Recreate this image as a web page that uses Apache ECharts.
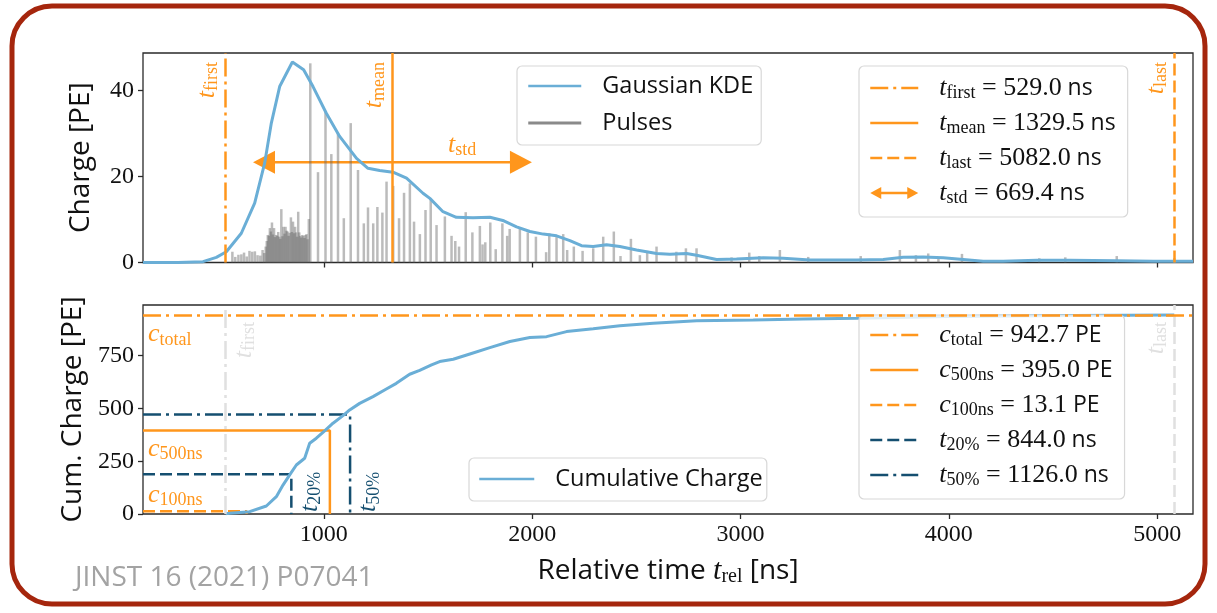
<!DOCTYPE html>
<html>
<head>
<meta charset="utf-8">
<style>
  html, body { margin: 0; padding: 0; background: #ffffff; }
  #chart { width: 1217px; height: 613px; }
</style>
<script src="https://cdn.jsdelivr.net/npm/echarts@6/dist/echarts.min.js"></script>
</head>
<body>
<div id="chart"></div>
<script>
// ---- axes ----
const X_MIN = 132, X_MAX = 5172;
const X_TICKS = [1000, 2000, 3000, 4000, 5000];
const Q_MAX = 48.7;
const Q_TICKS = [0, 20, 40];
const C_MAX = 990;
const C_TICKS = [0, 250, 500, 750];

// ---- summary quantities of the waveform ----
const T_FIRST = 529.0, T_MEAN = 1329.5, T_LAST = 5082.0, T_STD = 669.4;
const C_TOTAL = 942.7, C_500 = 395.0, C_100 = 13.1, T_20 = 844.0, T_50 = 1126.0;

// ---- individual pulses: time [ns], charge [PE] ----
const pulseTimes = [
  561, 575, 590, 604, 617, 630, 643, 656, 669, 682, 695, 706, 714, 721,
  726, 731, 736, 741, 746, 751, 756, 761, 766, 771, 776, 781, 786, 791, 796, 801,
  806, 811, 816, 821, 826, 831, 836, 842, 847, 852, 857, 862, 867, 872, 877, 882,
  887, 892, 897, 902, 907, 912, 917, 922, 928,
  935, 972, 1008, 1036, 1068, 1096, 1129, 1164, 1192, 1212, 1237, 1257, 1281, 1301,
  1333, 1361, 1385, 1413, 1433, 1461, 1488, 1513, 1541, 1581, 1613, 1631, 1649, 1681,
  1713, 1749, 1762, 1775, 1799, 1825, 1857, 1880, 1892, 1941, 1979, 2018, 2067, 2082,
  2117, 2149, 2168, 2200, 2242, 2293, 2341, 2392, 2424, 2474, 2517, 2552, 2597, 2692,
  2738, 2789, 2957, 3042, 3090, 3189, 3325, 3577, 3765, 3842, 3901, 3950, 4063, 4434,
  4559, 4806, 5082
];
const pulseCharges = [
  2.5, 1.3, 1.8, 1.9, 2.3, 1.4, 2.7, 2.5, 2.6, 1.7, 1.6, 2.9, 2.2, 3.7,
  5.0, 6.4, 6.2, 8.0, 7.2, 9.3, 6.5, 8.0, 5.9, 6.4, 6.2, 7.1, 6.0, 5.5, 12.4, 6.1,
  8.3, 6.7, 8.3, 7.4, 7.2, 6.2, 6.9, 10.5, 7.1, 9.5, 6.8, 8.3, 7.0, 6.0, 11.8, 7.0,
  6.2, 5.8, 6.4, 6.2, 5.7, 6.4, 6.6, 5.4, 10.1,
  46.3, 21.0, 35.1, 25.2, 30.0, 10.3, 32.4, 21.5, 9.1, 12.8, 9.1, 12.9, 11.6, 18.8,
  17.8, 10.3, 16.2, 18.4, 9.5, 6.6, 12.2, 14.5, 8.7, 10.7, 6.2, 5.0, 3.7, 11.7,
  7.0, 8.5, 4.2, 4.7, 9.3, 3.1, 9.1, 6.2, 7.8, 7.9, 7.0, 6.0, 2.4, 6.8,
  5.9, 6.6, 2.9, 3.7, 2.7, 3.3, 6.0, 7.2, 1.5, 5.5, 1.7, 2.7, 3.7, 2.5,
  3.3, 3.3, 1.2, 2.3, 1.5, 2.9, 1.3, 1.5, 2.9, 1.7, 2.1, 1.0, 2.0, 1.0,
  1.2, 1.5, 1.0
];

// ---- Gaussian KDE of the charge distribution ----
const kdeTimes = [
  132, 300, 420, 484, 532, 604, 668, 716, 748, 788, 849, 903, 948, 1012, 1076, 1157,
  1212, 1268, 1332, 1397, 1476, 1509, 1572, 1636, 1716, 1797, 1864, 1925, 1989, 2053,
  2117, 2181, 2237, 2293, 2357, 2421, 2501, 2597, 2661, 2741, 2789, 2885, 2981, 3109,
  3205, 3333, 3557, 3685, 3781, 3877, 3973, 4069, 4165, 4261, 4421, 4581, 4805, 4981, 5172
];
const kdeValues = [
  0, 0, 0.2, 1.2, 2.5, 6.8, 13.8, 23.1, 32.4, 40.9, 46.6, 44.8, 40.9, 34.7, 29.3, 24.2,
  21.9, 21.4, 21.0, 19.6, 16.1, 14.9, 11.8, 10.5, 10.4, 10.5, 9.7, 8.3, 7.2, 6.6,
  6.2, 5.1, 3.9, 3.7, 4.1, 3.7, 2.9, 2.1, 1.9, 2.1, 1.7, 0.7, 0.8, 1.1,
  1.0, 0.6, 0.6, 0.7, 1.2, 1.3, 1.1, 0.7, 0.3, 0.3, 0.5, 0.5, 0.4, 0.3, 0.3
];

// ---- cumulative charge ----
const cumTimes = [
  529, 548, 644, 724, 772, 804, 836, 868, 908, 932, 964, 1004, 1044, 1092, 1124, 1172,
  1236, 1300, 1348, 1412, 1460, 1517, 1556, 1621, 1701, 1797, 1893, 1989, 2069, 2165,
  2293, 2421, 2581, 2789, 3061, 3301, 3557, 4000, 4600, 5082
];
const cumValues = [
  1.5, 3, 11, 38, 82, 137, 185, 232, 264, 335, 359, 394, 430, 466, 493, 524,
  556, 592, 619, 662, 680, 706, 722, 733, 758, 788, 817, 836, 840, 864,
  877, 892, 904, 915, 919, 924, 927, 935, 940, 942.7
];

// ---- styling ----
const ORANGE = '#ff961c', BLUE = '#6aaed6', TEAL = '#154f70', GHOST = '#e0e0e0';
const FRAME = '#2a2a2a', GRAY_BAR = 'rgba(105,105,105,0.45)';
const SERIF = '"Liberation Serif", "DejaVu Serif", serif';
const SANS = '"Open Sans", "DejaVu Sans", sans-serif';
const DASH = [12, 5], DASHDOT = [18, 5, 3, 5];
const LW = 2.5;

const zip = (a, b) => a.map((v, i) => [v, b[i]]);
const ARROW_Y = Math.max(...kdeValues) / 2;

const chart = echarts.init(document.getElementById('chart'));

function xAxisCfg(grid, labels) {
  return {
    type: 'value', gridIndex: grid, min: X_MIN, max: X_MAX,
    axisLine: { show: false },
    splitLine: { show: false },
    axisTick: { show: true, inside: false, length: 5, customValues: X_TICKS,
                lineStyle: { color: FRAME, width: 1.3 } },
    axisLabel: { show: labels, customValues: X_TICKS, margin: 9, formatter: v => String(v),
                 fontFamily: SERIF, fontSize: 24, color: '#111' }
  };
}
function yAxisCfg(grid, max, ticks, name) {
  return {
    type: 'value', gridIndex: grid, min: 0, max: max,
    axisLine: { show: false },
    splitLine: { show: false },
    axisTick: { show: true, inside: false, length: 5, customValues: ticks,
                lineStyle: { color: FRAME, width: 1.3 } },
    axisLabel: { customValues: ticks, margin: 9, formatter: v => String(v),
                 fontFamily: SERIF, fontSize: 24, color: '#111' },
    name: name, nameLocation: 'middle', nameGap: 48,
    nameTextStyle: { fontFamily: SANS, fontSize: 28, color: '#111' }
  };
}

// vertical marker spanning the whole panel
function vMarker(name, t, dash, color, grid, z) {
  return {
    name: name, type: 'line', xAxisIndex: grid, yAxisIndex: grid, data: [],
    symbol: 'none', z: z, color: color,
    lineStyle: { color: color, width: LW, type: dash, cap: 'butt' },
    markLine: {
      silent: true, symbol: 'none', animation: false, label: { show: false },
      lineStyle: { color: color, width: LW, type: dash, cap: 'butt' },
      data: [{ xAxis: t }]
    }
  };
}
// horizontal level from the left edge to a time, then down to zero
function lMarker(name, t, c, dash, color) {
  return {
    name: name, type: 'line', xAxisIndex: 1, yAxisIndex: 1, z: 1,
    symbol: 'none', color: color,
    lineStyle: { color: color, width: LW, type: dash, cap: 'butt' },
    data: [[X_MIN, c], [t, c], [t, 0]]
  };
}

const legendRich = {
  sf0: { fontFamily: SANS, fontSize: 23.5, lineHeight: 28, color: '#111', padding: [0, 0, 0, 16] },
  sf: { fontFamily: SANS, fontSize: 23, lineHeight: 28, color: '#111' },
  it0: { fontFamily: SERIF, fontStyle: 'italic', fontSize: 26, lineHeight: 28, color: '#111', padding: [0, 0, 0, 16] },
  sub: { fontFamily: SERIF, fontSize: 18, lineHeight: 18, color: '#111', padding: [10, 0, 0, 0] },
  rm: { fontFamily: SERIF, fontSize: 26, lineHeight: 28, color: '#111' }
};
const eq = (v, unit) => `{rm| = ${v.toFixed(1)}}{sf| ${unit}}`;
const LEGEND_TEXT = {
  'Gaussian KDE': '{sf0|Gaussian KDE}',
  'Pulses': '{sf0|Pulses}',
  'Cumulative Charge': '{sf0|Cumulative Charge}',
  't_first': '{it0|t}{sub|first}' + eq(T_FIRST, 'ns'),
  't_mean': '{it0|t}{sub|mean}' + eq(T_MEAN, 'ns'),
  't_last': '{it0|t}{sub|last}' + eq(T_LAST, 'ns'),
  't_std': '{it0|t}{sub|std}' + eq(T_STD, 'ns'),
  'c_total': '{it0|c}{sub|total}' + eq(C_TOTAL, 'PE'),
  'c_500ns': '{it0|c}{sub|500ns}' + eq(C_500, 'PE'),
  'c_100ns': '{it0|c}{sub|100ns}' + eq(C_100, 'PE'),
  't_20%': '{it0|t}{sub|20%}' + eq(T_20, 'ns'),
  't_50%': '{it0|t}{sub|50%}' + eq(T_50, 'ns')
};
function legendCfg(data, left, top, iw, ih, pad, gap) {
  return {
    data: data, left: left, top: top, orient: 'vertical', selectedMode: false,
    itemWidth: iw, itemHeight: ih, itemGap: gap,
    padding: pad,
    backgroundColor: 'rgba(255,255,255,0.8)', borderColor: '#d8d8d8', borderWidth: 1.2, borderRadius: 5,
    lineStyle: { width: LW },
    itemStyle: { color: 'rgba(0,0,0,0)', borderWidth: 0 },
    formatter: n => LEGEND_TEXT[n],
    textStyle: { rich: legendRich }
  };
}

const option = {
  animation: false,
  backgroundColor: '#ffffff',
  grid: [
    { left: 143, top: 53, width: 1050, height: 209.5, show: true, borderColor: FRAME, borderWidth: 1.3, backgroundColor: 'transparent' },
    { left: 143, top: 305, width: 1050, height: 209, show: true, borderColor: FRAME, borderWidth: 1.3, backgroundColor: 'transparent' }
  ],
  xAxis: [
    xAxisCfg(0, false),
    Object.assign(xAxisCfg(1, true), {
      name: '{sf|Relative time }{it|t}{sub|rel}{sf| [ns]}',
      nameLocation: 'middle', nameGap: 41,
      nameTextStyle: { rich: {
        sf: { fontFamily: SANS, fontSize: 28, color: '#111' },
        it: { fontFamily: SERIF, fontStyle: 'italic', fontSize: 30, color: '#111' },
        sub: { fontFamily: SERIF, fontSize: 20, color: '#111', padding: [12, 0, 0, 0] }
      } }
    })
  ],
  yAxis: [
    yAxisCfg(0, Q_MAX, Q_TICKS, 'Charge [PE]'),
    yAxisCfg(1, C_MAX, C_TICKS, 'Cum. Charge [PE]')
  ],
  legend: [
    legendCfg(['Gaussian KDE', { name: 'Pulses', icon: 'rect', itemStyle: { color: '#8a8a8a' } }], 517, 66, 53, 3,
              [8, 8, 10, 10], 13),
    legendCfg(['t_first', 't_mean', 't_last',
      { name: 't_std', icon: 'path://M0,6 L11,0 L11,4.8 L37,4.8 L37,0 L48,6 L37,12 L37,7.2 L11,7.2 L11,12 Z',
        itemStyle: { color: ORANGE } }], 859, 66, 48, 14, [8, 12, 10, 10], 7),
    legendCfg(['Cumulative Charge'], 469, 458, 55, 3, [9, 4, 10, 9], 7),
    legendCfg(['c_total', 'c_500ns', 'c_100ns', 't_20%', 't_50%'], 859, 315, 48, 14, [6, 12, 10, 10], 7)
  ],
  series: [
    // ---- upper panel ----
    vMarker('t_first', T_FIRST, DASHDOT, ORANGE, 0, 1),
    vMarker('t_mean', T_MEAN, 'solid', ORANGE, 0, 1),
    vMarker('t_last', T_LAST, DASH, ORANGE, 0, 1),
    {
      name: 't_std', type: 'custom', xAxisIndex: 0, yAxisIndex: 0, z: 2, clip: false,
      itemStyle: { color: ORANGE },
      encode: { x: [0, 1], y: 2 },
      data: [[T_MEAN - T_STD, T_MEAN + T_STD, ARROW_Y]],
      renderItem: function (params, api) {
        const a = api.coord([api.value(0), api.value(2)]);
        const b = api.coord([api.value(1), api.value(2)]);
        const hl = 22, hw = 11.5;
        return { type: 'group', children: [
          { type: 'line', shape: { x1: a[0] + hl * 0.7, y1: a[1], x2: b[0] - hl * 0.7, y2: b[1] },
            style: { stroke: ORANGE, lineWidth: LW } },
          { type: 'polygon', shape: { points: [[a[0], a[1]], [a[0] + hl, a[1] - hw], [a[0] + hl, a[1] + hw]] },
            style: { fill: ORANGE } },
          { type: 'polygon', shape: { points: [[b[0], b[1]], [b[0] - hl, b[1] - hw], [b[0] - hl, b[1] + hw]] },
            style: { fill: ORANGE } }
        ] };
      }
    },
    {
      name: 'Pulses', type: 'bar', xAxisIndex: 0, yAxisIndex: 0, z: 2,
      barWidth: 2.5, itemStyle: { color: GRAY_BAR },
      data: zip(pulseTimes, pulseCharges)
    },
    {
      name: 'Gaussian KDE', type: 'line', xAxisIndex: 0, yAxisIndex: 0, z: 3,
      symbol: 'none', color: BLUE, lineStyle: { color: BLUE, width: 3 },
      data: zip(kdeTimes, kdeValues)
    },
    // ---- lower panel ----
    Object.assign(vMarker(null, T_FIRST, DASHDOT, GHOST, 1, 0), { name: undefined }),
    Object.assign(vMarker(null, T_LAST, DASH, GHOST, 1, 0), { name: undefined }),
    {
      name: 'c_total', type: 'line', xAxisIndex: 1, yAxisIndex: 1, data: [], symbol: 'none', z: 1,
      color: ORANGE, lineStyle: { color: ORANGE, width: LW, type: DASHDOT },
      markLine: { silent: true, symbol: 'none', label: { show: false },
        lineStyle: { color: ORANGE, width: LW, type: DASHDOT, cap: 'butt' }, data: [{ yAxis: C_TOTAL }] }
    },
    lMarker('c_500ns', T_FIRST + 500, C_500, 'solid', ORANGE),
    lMarker('c_100ns', T_FIRST + 100, C_100, DASH, ORANGE),
    lMarker('t_20%', T_20, 0.2 * C_TOTAL, DASH, TEAL),
    lMarker('t_50%', T_50, 0.5 * C_TOTAL, DASHDOT, TEAL),
    {
      name: 'Cumulative Charge', type: 'line', xAxisIndex: 1, yAxisIndex: 1, z: 3,
      symbol: 'none', color: BLUE, lineStyle: { color: BLUE, width: 3 },
      data: zip(cumTimes, cumValues)
    }
  ]
};
chart.setOption(option);

// ---- annotations placed through the axes ----
const px0 = v => chart.convertToPixel({ gridIndex: 0 }, v);
const px1 = v => chart.convertToPixel({ gridIndex: 1 }, v);
function mathStyle(main, sub, size, color, align, valign) {
  return {
    text: `{m|${main}}{s|${sub}}`,
    align: align, verticalAlign: valign, fill: color,
    rich: {
      m: { fontFamily: SERIF, fontStyle: 'italic', fontSize: size, fill: color },
      s: { fontFamily: SERIF, fontSize: Math.round(size * 0.7), fill: color, padding: [Math.round(size * 0.42), 0, 0, 0] }
    }
  };
}
const UP = Math.PI / 2;
const g = [];
// upper panel labels
[[T_FIRST, 'first'], [T_MEAN, 'mean'], [T_LAST, 'last']].forEach(([t, s]) => {
  const p = px0([t, Q_MAX]);
  g.push({ type: 'text', x: p[0] - 4, y: p[1] + 9, rotation: UP, z: 20,
           style: mathStyle('t', s, 26, ORANGE, 'right', 'bottom') });
});
{
  const p = px0([T_MEAN + T_STD / 2, ARROW_Y]);
  g.push({ type: 'text', x: p[0], y: p[1] - 3, z: 20, style: mathStyle('t', 'std', 26, ORANGE, 'center', 'bottom') });
}
// lower panel labels
{
  let p = px1([X_MIN, C_TOTAL]);
  g.push({ type: 'text', x: p[0] + 5, y: p[1] + 5, z: 20, style: mathStyle('c', 'total', 26, ORANGE, 'left', 'top') });
  p = px1([X_MIN, C_500]);
  g.push({ type: 'text', x: p[0] + 5, y: p[1] + 4, z: 20, style: mathStyle('c', '500ns', 26, ORANGE, 'left', 'top') });
  p = px1([X_MIN, C_100]);
  g.push({ type: 'text', x: p[0] + 5, y: p[1] - 2, z: 20, style: mathStyle('c', '100ns', 26, ORANGE, 'left', 'bottom') });
  p = px1([T_20, 0]);
  g.push({ type: 'text', x: p[0] + 4, y: p[1] - 2, rotation: UP, z: 20, style: mathStyle('t', '20%', 26, TEAL, 'left', 'top') });
  p = px1([T_50, 0]);
  g.push({ type: 'text', x: p[0] + 4, y: p[1] - 2, rotation: UP, z: 20, style: mathStyle('t', '50%', 26, TEAL, 'left', 'top') });
  p = px1([T_FIRST, C_MAX]);
  g.push({ type: 'text', x: p[0] + 4, y: p[1] + 17, rotation: UP, z: 0, style: mathStyle('t', 'first', 26, GHOST, 'right', 'top') });
  p = px1([T_LAST, C_MAX]);
  g.push({ type: 'text', x: p[0] - 4, y: p[1] + 17, rotation: UP, z: 0, style: mathStyle('t', 'last', 26, GHOST, 'right', 'bottom') });
}
// frame and citation
g.push({ type: 'rect', z: -10, silent: true,
         shape: { x: 12, y: 6, width: 1193, height: 598, r: 40 },
         style: { fill: 'none', stroke: '#a5260d', lineWidth: 5 } });
g.push({ type: 'text', x: 75, y: 578, z: 20,
         style: { text: 'JINST 16 (2021) P07041', fontFamily: SANS, fontSize: 28, fill: '#a3a3a3',
                  align: 'left', verticalAlign: 'middle' } });
chart.setOption({ graphic: g });
</script>
</body>
</html>
